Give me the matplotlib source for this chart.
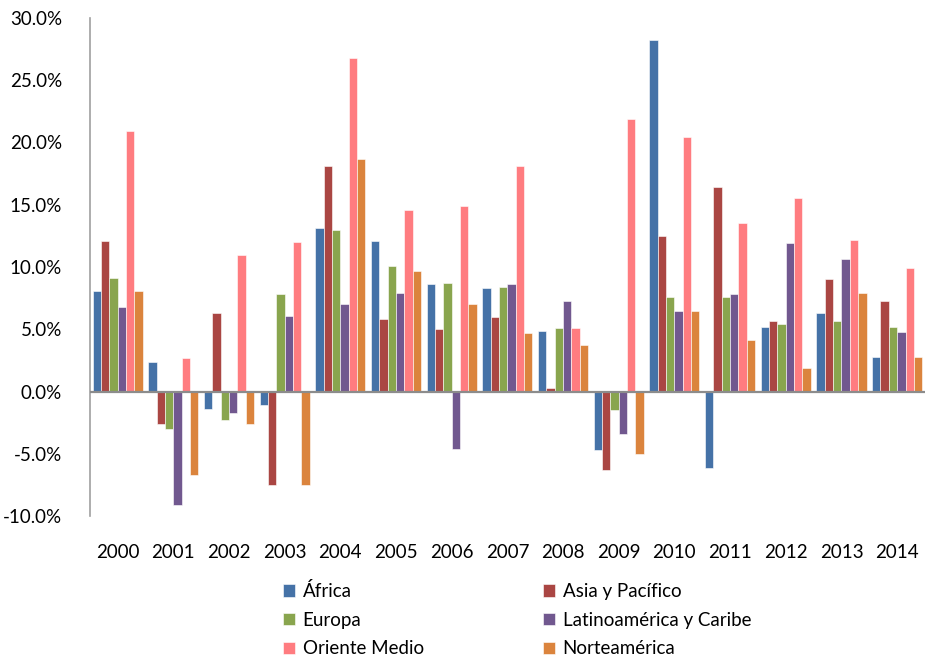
import numpy as np
import matplotlib
matplotlib.use("Agg")
import matplotlib.pyplot as plt
from matplotlib.ticker import FuncFormatter

plt.rcParams['font.family'] = ['Lato', 'DejaVu Sans']

# data (growth, %)
years = [str(y) for y in range(2000, 2015)]
africa   = [8.1, 2.4, -1.4, -1.1, 13.1, 12.1, 8.6, 8.3, 4.9, -4.7, 28.2, -6.1, 5.2, 6.3, 2.8]
asia     = [12.1, -2.6, 6.3, -7.5, 18.1, 5.8, 5.0, 6.0, 0.3, -6.3, 12.5, 16.4, 5.7, 9.0, 7.3]
europa   = [9.1, -3.0, -2.3, 7.8, 13.0, 10.1, 8.7, 8.4, 5.1, -1.5, 7.6, 7.6, 5.4, 5.7, 5.2]
latam    = [6.8, -9.1, -1.7, 6.1, 7.0, 7.9, -4.6, 8.6, 7.3, -3.4, 6.5, 7.8, 11.9, 10.6, 4.8]
oriente  = [20.9, 2.7, 11.0, 12.0, 26.8, 14.6, 14.9, 18.1, 5.1, 21.9, 20.4, 13.5, 15.5, 12.2, 9.9]
norteam  = [8.1, -6.7, -2.6, -7.5, 18.7, 9.7, 7.0, 4.7, 3.7, -5.0, 6.5, 4.1, 1.9, 7.9, 2.8]

series = [africa, asia, europa, latam, oriente, norteam]
names = ['África', 'Asia y Pacífico', 'Europa', 'Latinoamérica y Caribe',
         'Oriente Medio', 'Norteamérica']
colors = ['#4572A7', '#AA4643', '#89A54E', '#71588F', '#FF7C80', '#DB843D']

fig = plt.figure(figsize=(9.25, 6.6), dpi=100)
ax = fig.add_axes([0.097, 0.218, 0.903, 0.755])

x = np.arange(len(years))
w = 0.15
bars = []
for i, (vals, name, c) in enumerate(zip(series, names, colors)):
    b = ax.bar(x + (i - 2.5) * w, vals, w, color=c, label=name,
               edgecolor='white', linewidth=0.4)
    bars.append(b)

ax.set_xlim(-0.5, len(years) - 0.5)
ax.set_ylim(-10, 30)
ax.set_yticks(np.arange(-10, 31, 5))
ax.yaxis.set_major_formatter(FuncFormatter(lambda v, p: '%.1f%%' % v))
ax.set_xticks(x)
ax.set_xticklabels(years)

ax.axhline(0, color='#8c8c8c', linewidth=1.6, zorder=3)
for s in ['top', 'right', 'bottom']:
    ax.spines[s].set_visible(False)
ax.spines['left'].set_color('#a0a0a0')
ax.spines['left'].set_linewidth(1.2)
ax.tick_params(axis='both', length=0, labelsize=13.5, colors='black')
ax.tick_params(axis='y', pad=20)
ax.tick_params(axis='x', pad=20)

# legend filled row by row
order = [0, 2, 4, 1, 3, 5]
fig.legend([bars[i] for i in order], [names[i] for i in order],
           ncol=2, loc='upper left', bbox_to_anchor=(0.306, 0.118),
           frameon=False, fontsize=13.5, handlelength=0.65, handleheight=0.65,
           handletextpad=0.4, columnspacing=6.35, labelspacing=0.62,
           borderaxespad=0, borderpad=0)

fig.savefig('out.png', dpi=100)
